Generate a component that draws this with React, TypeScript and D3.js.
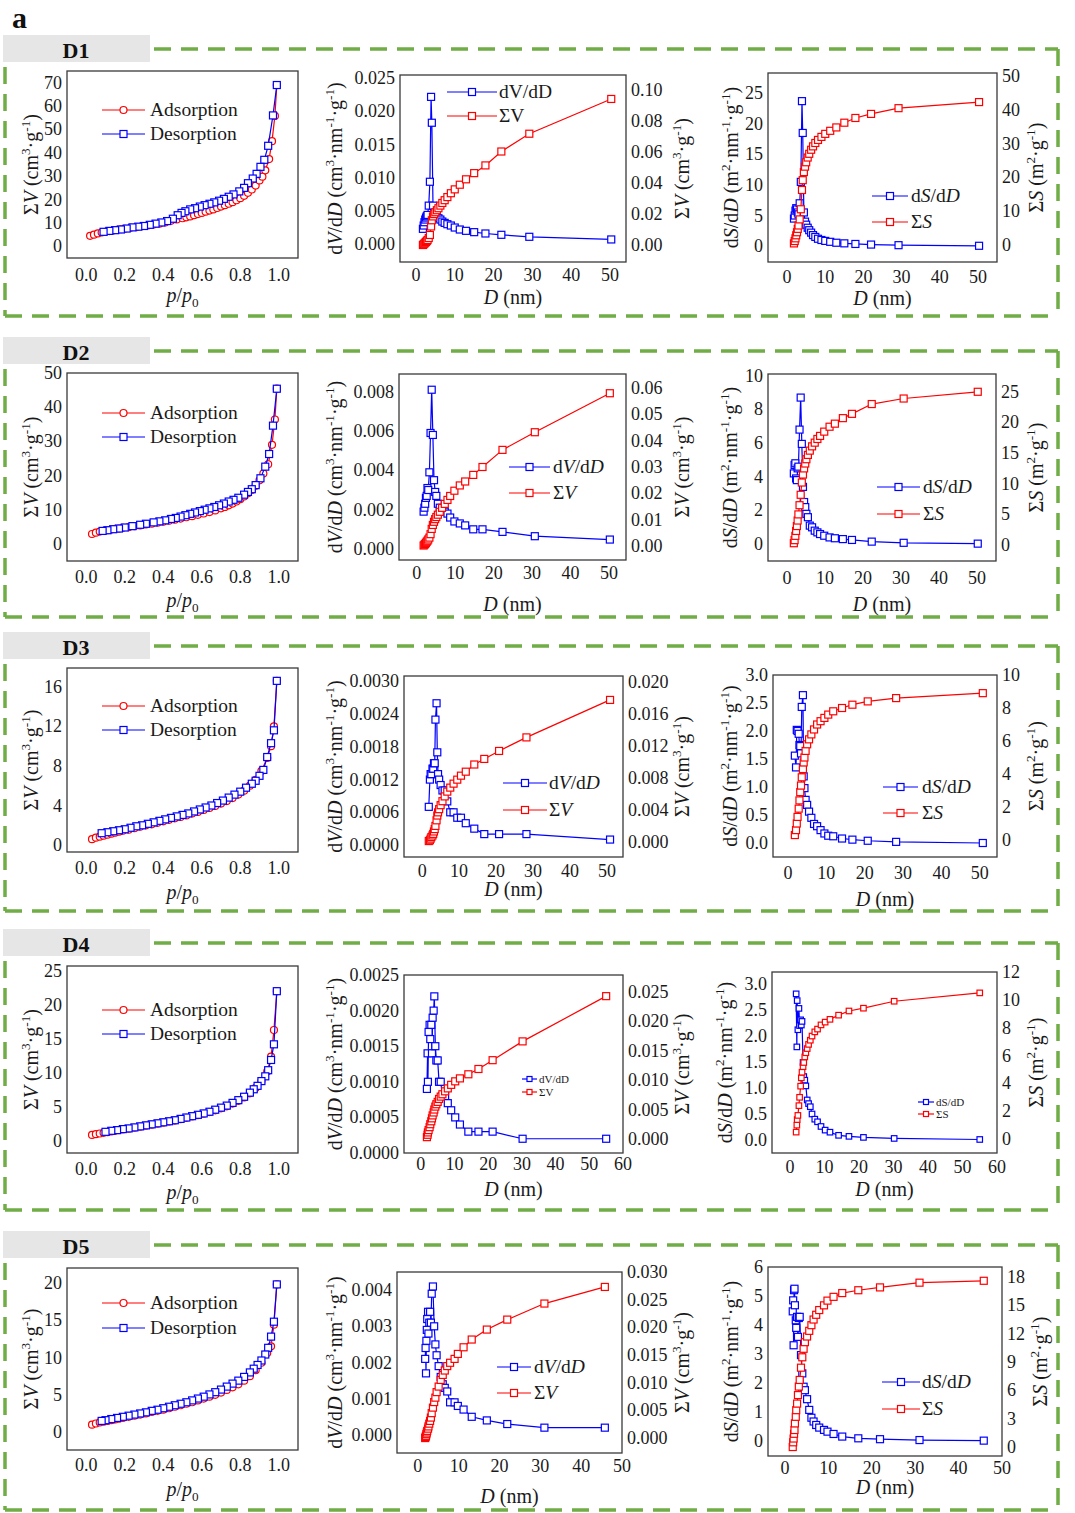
import React from 'react';
import * as d3 from 'd3';

const FONT = '"Liberation Serif","Times New Roman",Times,serif';
const RED = '#ff0000';
const BLUE = '#0000ff';
const GREEN = '#70ad47';
const INK = '#1a1a1a';

// ---------- Isotherm data (p/p0, cm3/g) ----------
const iso1AdsP = [0.02,0.04,0.06,0.08,0.10,0.12,0.14,0.16,0.18,0.20,0.23,0.26,0.29,0.32,0.35,0.38,0.41,0.44,0.47,0.50,0.52,0.54,0.56,0.58,0.60,0.62,0.64,0.66,0.68,0.70,0.72,0.74,0.76,0.78,0.80,0.82,0.84,0.86,0.88,0.90,0.915,0.93,0.95,0.965,0.98,0.99];
const iso1AdsV = [4.5,5.0,5.5,5.9,6.2,6.5,6.8,7.0,7.3,7.5,7.9,8.2,8.6,8.9,9.3,9.7,10.2,10.9,11.5,12.0,12.4,12.8,13.3,13.8,14.3,14.8,15.3,15.8,16.4,17.0,17.6,18.2,18.9,19.7,20.6,21.6,22.9,24.3,26.0,28.2,29.8,32.5,37.3,45.0,55.8,69.0];
const iso1DesP = [0.99,0.97,0.945,0.925,0.905,0.885,0.865,0.84,0.82,0.795,0.765,0.74,0.715,0.69,0.665,0.64,0.615,0.59,0.565,0.54,0.515,0.495,0.475,0.45,0.42,0.39,0.36,0.33,0.30,0.27,0.24,0.21,0.18,0.15,0.12,0.09];
const iso1DesV = [69,56,43,37,34,31,29,27,25,23.5,22.2,21.2,20.3,19.5,18.8,18.2,17.6,17.0,16.3,15.8,15.0,14.3,13.3,11.8,10.8,10.2,9.7,9.2,8.7,8.4,8.1,7.6,7.2,6.9,6.6,6.2];

const iso2AdsP = [0.03,0.05,0.07,0.09,0.11,0.13,0.15,0.17,0.19,0.22,0.25,0.28,0.31,0.34,0.37,0.40,0.43,0.46,0.49,0.52,0.55,0.58,0.61,0.64,0.67,0.70,0.72,0.74,0.76,0.78,0.80,0.82,0.84,0.86,0.88,0.90,0.92,0.945,0.965,0.98,0.99];
const iso2AdsV = [2.9,3.3,3.6,3.8,4.0,4.2,4.4,4.5,4.7,4.9,5.2,5.4,5.7,5.9,6.2,6.5,6.8,7.1,7.4,7.8,8.1,8.5,8.9,9.3,9.8,10.4,10.8,11.3,11.8,12.4,13.1,13.9,14.8,15.8,17.0,18.6,20.6,23.3,29.0,36.4,45.4];
const iso2DesP = [0.99,0.97,0.95,0.93,0.905,0.88,0.86,0.84,0.82,0.79,0.765,0.74,0.715,0.69,0.665,0.64,0.615,0.59,0.565,0.54,0.515,0.49,0.465,0.44,0.41,0.38,0.35,0.31,0.28,0.24,0.20,0.17,0.14,0.11,0.085];
const iso2DesV = [45.4,34.6,26.3,22.6,19.2,17.2,16.0,15.2,14.4,13.5,12.9,12.4,11.8,11.3,10.8,10.4,10.0,9.6,9.2,8.8,8.4,8.0,7.6,7.3,6.9,6.6,6.3,5.9,5.6,5.2,4.8,4.5,4.3,4.0,3.8];

const iso3AdsP = [0.03,0.05,0.07,0.09,0.11,0.13,0.15,0.17,0.19,0.22,0.25,0.28,0.31,0.34,0.37,0.40,0.43,0.46,0.49,0.52,0.55,0.58,0.61,0.64,0.67,0.70,0.73,0.76,0.79,0.82,0.85,0.88,0.91,0.94,0.96,0.975,0.99];
const iso3AdsV = [0.6,0.75,0.85,0.95,1.05,1.15,1.25,1.35,1.45,1.55,1.7,1.85,2.0,2.1,2.25,2.4,2.55,2.7,2.85,3.0,3.2,3.35,3.55,3.75,3.95,4.2,4.45,4.75,5.1,5.5,6.0,6.6,7.5,8.8,10.0,12.0,16.6];
const iso3DesP = [0.99,0.975,0.96,0.94,0.92,0.90,0.88,0.86,0.83,0.80,0.77,0.74,0.71,0.68,0.65,0.62,0.59,0.56,0.53,0.50,0.47,0.44,0.41,0.38,0.35,0.32,0.29,0.26,0.23,0.20,0.17,0.14,0.11,0.08];
const iso3DesV = [16.6,11.6,10.3,8.9,7.6,7.0,6.5,6.2,5.8,5.4,5.1,4.8,4.5,4.25,4.0,3.8,3.6,3.4,3.2,3.05,2.9,2.75,2.6,2.45,2.3,2.15,2.0,1.9,1.75,1.6,1.5,1.4,1.3,1.2];

const iso4AdsP = [0.03,0.05,0.07,0.09,0.11,0.13,0.15,0.17,0.19,0.22,0.25,0.28,0.31,0.34,0.37,0.40,0.43,0.46,0.49,0.52,0.55,0.58,0.61,0.64,0.67,0.70,0.73,0.76,0.79,0.82,0.85,0.88,0.91,0.94,0.96,0.975,0.99];
const iso4AdsV = [0.9,1.0,1.1,1.2,1.3,1.4,1.5,1.6,1.7,1.8,1.95,2.1,2.25,2.4,2.55,2.7,2.85,3.0,3.2,3.4,3.6,3.8,4.0,4.25,4.5,4.8,5.1,5.5,5.9,6.4,7.0,7.8,8.8,10.2,12.4,16.3,22.0];
const iso4DesP = [0.99,0.975,0.96,0.945,0.93,0.91,0.89,0.87,0.85,0.82,0.79,0.76,0.73,0.70,0.67,0.64,0.61,0.58,0.55,0.52,0.49,0.46,0.43,0.40,0.37,0.34,0.31,0.28,0.25,0.22,0.19,0.16,0.13,0.10];
const iso4DesV = [22.0,14.2,11.9,10.4,9.5,8.8,8.1,7.6,7.1,6.5,6.0,5.6,5.2,4.9,4.6,4.3,4.05,3.85,3.65,3.45,3.25,3.05,2.9,2.75,2.6,2.45,2.3,2.15,2.0,1.85,1.75,1.6,1.5,1.35];

const iso5AdsP = [0.03,0.05,0.07,0.09,0.11,0.13,0.15,0.17,0.19,0.22,0.25,0.28,0.31,0.34,0.37,0.40,0.43,0.46,0.49,0.52,0.55,0.58,0.61,0.64,0.67,0.70,0.73,0.76,0.79,0.82,0.85,0.88,0.91,0.94,0.96,0.975,0.99];
const iso5AdsV = [1.0,1.15,1.3,1.4,1.5,1.6,1.7,1.8,1.9,2.05,2.2,2.35,2.5,2.7,2.85,3.0,3.2,3.4,3.6,3.8,4.0,4.25,4.5,4.75,5.0,5.3,5.65,6.0,6.4,6.9,7.5,8.3,9.3,10.6,11.5,14.4,19.8];
const iso5DesP = [0.99,0.975,0.96,0.945,0.93,0.91,0.89,0.87,0.85,0.82,0.79,0.76,0.73,0.70,0.67,0.64,0.61,0.58,0.55,0.52,0.49,0.46,0.43,0.40,0.37,0.34,0.31,0.28,0.25,0.22,0.19,0.16,0.13,0.10,0.08];
const iso5DesV = [19.8,14.8,12.8,11.3,10.4,9.6,9.0,8.5,8.0,7.4,6.9,6.5,6.1,5.7,5.35,5.05,4.75,4.5,4.25,4.0,3.8,3.6,3.4,3.2,3.0,2.85,2.65,2.5,2.35,2.2,2.05,1.9,1.75,1.6,1.5];

// ---------- Pore size distribution data (D in nm) ----------
const psd1D = [1.8,2.0,2.2,2.4,2.6,2.8,3.0,3.3,3.6,3.9,4.1,4.4,4.7,5.0,5.4,5.8,6.3,6.8,7.4,8.1,9.0,10.0,11.3,12.9,15.0,17.9,22.0,29.2,50.3];
const psd1dV = [0.0023,0.0028,0.0033,0.0037,0.0040,0.0042,0.0044,0.0058,0.0094,0.0222,0.0183,0.0058,0.0047,0.0042,0.0040,0.0039,0.0037,0.0034,0.0032,0.0030,0.0028,0.0025,0.0022,0.0020,0.0018,0.0016,0.0014,0.0011,0.0007];
const psd1V = [0.0000,0.0005,0.0010,0.0015,0.0020,0.0026,0.0032,0.0045,0.0065,0.0120,0.0160,0.0185,0.0200,0.0212,0.0225,0.0238,0.0255,0.0272,0.0290,0.0310,0.0335,0.0360,0.0390,0.0425,0.0465,0.0515,0.0605,0.0720,0.0945];
const psd1dS = [4.5,5.0,5.8,6.2,6.0,5.5,5.2,7.0,10.5,23.7,18.5,5.5,4.0,3.5,3.0,2.6,2.2,1.8,1.5,1.2,1.0,0.85,0.7,0.55,0.45,0.35,0.25,0.15,0.05];
const psd1S = [0.5,1.2,2.0,2.9,3.8,4.8,5.8,7.6,10.6,16.3,19.2,21.6,23.2,24.5,25.9,27.0,28.2,29.2,30.2,31.1,32.0,32.9,33.8,34.8,36.2,37.6,38.8,40.5,42.3];

const psd2D = [1.8,2.0,2.2,2.4,2.6,2.8,3.0,3.3,3.6,3.9,4.2,4.5,4.8,5.1,5.5,6.0,6.6,7.3,8.0,8.7,9.8,11.2,12.6,14.7,17.1,22.3,30.7,50.2];
const psd2dV = [0.0019,0.0021,0.0023,0.0026,0.0027,0.0031,0.0030,0.0039,0.0059,0.0081,0.0058,0.0035,0.0029,0.0027,0.0023,0.0021,0.0019,0.0019,0.0018,0.0016,0.0014,0.0013,0.0012,0.0010,0.0010,0.00087,0.00065,0.00048];
const psd2V = [0.0002,0.0005,0.0008,0.0012,0.0016,0.0020,0.0025,0.0032,0.0045,0.0065,0.0080,0.0092,0.0102,0.0110,0.0119,0.0130,0.0145,0.0160,0.0175,0.0190,0.0210,0.0230,0.0245,0.0270,0.0300,0.0365,0.0432,0.0580];
const psd2dS = [4.2,4.7,4.8,3.9,3.8,4.5,4.6,6.8,8.7,5.95,3.4,2.5,2.2,1.8,1.6,1.1,1.0,0.8,0.7,0.6,0.5,0.4,0.35,0.3,0.25,0.15,0.08,0.03];
const psd2S = [0.3,0.8,1.5,2.3,3.1,4.0,5.0,6.5,8.2,10.2,11.5,12.5,13.3,14.0,14.7,15.4,16.1,16.7,17.3,17.8,18.5,19.3,19.8,20.7,21.4,23.0,23.9,25.0];

const psd3D = [1.8,2.1,2.3,2.5,2.8,3.0,3.2,3.4,3.6,3.9,4.1,4.3,4.6,5.0,5.5,6.1,6.8,7.6,8.5,9.5,10.5,11.8,14.1,16.8,20.8,28.2,50.8];
const psd3dV = [0.0007,0.0012,0.0013,0.0013,0.0014,0.0014,0.0015,0.0015,0.0023,0.0026,0.0017,0.0013,0.0012,0.0011,0.0010,0.0010,0.0008,0.0006,0.0006,0.0005,0.0005,0.0004,0.0003,0.0002,0.0002,0.0002,0.0001];
const psd3V = [0.0001,0.0002,0.0004,0.0006,0.0008,0.0010,0.0013,0.0016,0.0020,0.0027,0.0033,0.0037,0.0041,0.0046,0.0051,0.0057,0.0063,0.0068,0.0073,0.0078,0.0083,0.0088,0.0097,0.0104,0.0114,0.0131,0.0178];
const psd3dS = [1.56,1.35,2.02,2.0,1.95,1.75,1.73,1.6,2.43,2.64,1.19,0.98,0.77,0.68,0.56,0.45,0.34,0.30,0.23,0.17,0.13,0.12,0.08,0.06,0.04,0.02,0.0];
const psd3S = [0.3,0.6,1.0,1.4,1.9,2.4,2.9,3.3,3.8,4.3,4.7,5.0,5.4,5.8,6.1,6.4,6.7,7.0,7.2,7.4,7.6,7.8,8.0,8.2,8.4,8.6,8.9];

const psd4D = [1.8,2.0,2.1,2.3,2.6,2.8,3.1,3.3,3.5,3.8,4.0,4.3,4.6,5.0,5.4,5.9,6.4,7.2,8.0,9.0,10.2,11.6,14.1,17.1,21.3,30.2,55.0];
const psd4dV = [0.0009,0.0014,0.0010,0.0017,0.0018,0.0016,0.0018,0.0014,0.0019,0.0020,0.0022,0.0015,0.0013,0.0013,0.0010,0.0010,0.0008,0.0008,0.0007,0.0006,0.0005,0.0004,0.0003,0.0003,0.0003,0.0002,0.0002];
const psd4V = [0.0003,0.0007,0.0011,0.0015,0.0020,0.0025,0.0030,0.0035,0.0040,0.0045,0.0050,0.0055,0.0059,0.0063,0.0068,0.0072,0.0076,0.0081,0.0086,0.0092,0.0098,0.0103,0.0110,0.0119,0.0134,0.0166,0.0243];
const psd4dS = [2.81,1.79,2.68,2.12,2.53,2.20,2.31,2.21,2.28,1.49,1.22,1.15,1.04,0.77,0.70,0.64,0.50,0.40,0.35,0.26,0.19,0.15,0.09,0.07,0.05,0.03,0.01];
const psd4S = [0.5,1.0,1.4,1.7,2.4,3.0,3.8,4.4,4.8,5.2,5.5,5.9,6.2,6.5,6.8,7.1,7.4,7.7,7.9,8.2,8.4,8.6,8.9,9.2,9.4,9.9,10.5];

const psd5D = [1.8,1.9,2.0,2.1,2.2,2.3,2.5,2.6,2.8,3.0,3.2,3.4,3.7,4.0,4.3,4.6,5.1,5.6,6.1,6.6,7.2,7.9,9.0,9.8,11.2,13.2,16.9,21.9,31.0,45.8];
const psd5dV = [0.0021,0.0024,0.0017,0.0026,0.0029,0.0032,0.0034,0.0028,0.0031,0.0034,0.0031,0.0039,0.0041,0.0030,0.0025,0.0022,0.0019,0.0016,0.0014,0.0013,0.0012,0.0009,0.0009,0.0008,0.0007,0.0005,0.0004,0.0003,0.0002,0.0002];
const psd5V = [0.0000,0.0002,0.0004,0.0007,0.0010,0.0013,0.0017,0.0021,0.0026,0.0031,0.0037,0.0045,0.0055,0.0065,0.0073,0.0083,0.0093,0.0105,0.0114,0.0122,0.0130,0.0136,0.0143,0.0152,0.0164,0.0178,0.0196,0.0214,0.0243,0.0273];
const psd5dS = [4.47,4.85,3.30,5.20,5.25,4.68,4.16,3.90,4.28,3.59,4.24,4.28,2.96,2.33,1.87,1.75,1.44,1.07,0.80,0.67,0.55,0.46,0.38,0.32,0.24,0.15,0.09,0.06,0.03,0.01];
const psd5S = [0.0,0.5,0.9,1.4,1.8,2.5,3.2,3.9,4.6,5.5,6.4,7.1,8.4,9.5,10.4,11.1,11.7,12.3,12.9,13.5,14.0,14.5,15.0,15.5,15.9,16.3,16.6,16.9,17.4,17.6];

// ---------- tick values ----------
const isoXTicks = [0, 0.2, 0.4, 0.6, 0.8, 1.0];
const dTicks50 = [0, 10, 20, 30, 40, 50];
const dTicks60 = [0, 10, 20, 30, 40, 50, 60];
const sampleNames = ['D1', 'D2', 'D3', 'D4', 'D5'];

// ---------- rich text ----------
type Seg = { t: string; i: boolean; sup: boolean; sub: boolean };
function parseRich(s: string): Seg[] {
  const out: Seg[] = [];
  let cur = '';
  let st = { i: false, sup: false, sub: false };
  const push = () => { if (cur) out.push({ t: cur, ...st }); cur = ''; };
  for (const ch of s) {
    if (ch === '*') { push(); st = { ...st, i: !st.i }; }
    else if (ch === '^') { push(); st = { ...st, sup: !st.sup }; }
    else if (ch === '~') { push(); st = { ...st, sub: !st.sub }; }
    else cur += ch;
  }
  push();
  return out;
}

function Rich({ s, x, y, size, anchor = 'start', rotate = false }: any) {
  const segs = parseRich(s);
  let shift = 0;
  const spans = segs.map((g, k) => {
    const target = g.sup ? -0.38 * size : g.sub ? 0.25 * size : 0;
    const dy = target - shift;
    shift = target;
    return (
      <tspan key={k} dy={dy} fontStyle={g.i ? 'italic' : 'normal'} fontSize={g.sup || g.sub ? size * 0.66 : size}>
        {g.t}
      </tspan>
    );
  });
  const transform = rotate ? `translate(${x},${y}) rotate(-90)` : `translate(${x},${y})`;
  return (
    <text transform={transform} textAnchor={anchor} fontSize={size} fontFamily={FONT} fill={INK}>
      {spans}
    </text>
  );
}

function Marker({ kind, x, y, size, color }: any) {
  if (kind === 'circle') {
    return <circle cx={x} cy={y} r={size / 2} fill="#fff" stroke={color} strokeWidth={1.2} />;
  }
  return <rect x={x - size / 2} y={y - size / 2} width={size} height={size} fill="#fff" stroke={color} strokeWidth={1.2} />;
}

const TICK = 18;
const TITLE = 20;

function Panel({ c }: any) {
  const x = d3.scaleLinear().domain(c.xDom).range([c.x0, c.x1]);
  const yL = d3.scaleLinear().domain(c.yLDom).range([c.y1, c.y0]);
  const yR = c.yRDom ? d3.scaleLinear().domain(c.yRDom).range([c.y1, c.y0]) : null;
  const ms = c.msize ?? 7;
  const midY = (c.y0 + c.y1) / 2;
  const lg = c.legend;
  const lsize = lg.size ?? 19.5;
  const lms = lg.msize ?? ms;
  return (
    <g>
      <rect x={c.x0} y={c.y0} width={c.x1 - c.x0} height={c.y1 - c.y0} fill="none" stroke="#3a3a3a" strokeWidth={1.3} />
      {c.xTicks.map((t: number) => (
        <text key={'x' + t} x={x(t)} y={c.y1 + c.xTickDy} textAnchor="middle" fontSize={TICK} fontFamily={FONT} fill={INK}>
          {c.xFmt(t)}
        </text>
      ))}
      {c.yLTicks.map((t: number) => (
        <text key={'l' + t} x={c.x0 - 5} y={yL(t) + 6} textAnchor="end" fontSize={TICK} fontFamily={FONT} fill={INK}>
          {c.yLFmt(t)}
        </text>
      ))}
      {yR && c.yRTicks.map((t: number) => (
        <text key={'r' + t} x={c.x1 + 5} y={yR(t) + 6} textAnchor="start" fontSize={TICK} fontFamily={FONT} fill={INK}>
          {c.yRFmt(t)}
        </text>
      ))}
      {c.series.map((s: any, si: number) => {
        const ys = s.axis === 'right' && yR ? yR : yL;
        const pts: [number, number][] = s.x.map((v: number, i: number) => [x(v), ys(s.y[i])]);
        const line = d3.line();
        return (
          <g key={'s' + si}>
            <path d={line(pts) || ''} fill="none" stroke={s.color} strokeWidth={1.2} />
            {pts.map((p, i) => (
              <Marker key={i} kind={s.marker} x={p[0]} y={p[1]} size={ms} color={s.color} />
            ))}
          </g>
        );
      })}
      {lg.items.map((it: any, i: number) => (
        <g key={'lg' + i}>
          <line x1={lg.lx0} x2={lg.lx1} y1={lg.ys[i]} y2={lg.ys[i]} stroke={it.color} strokeWidth={1.2} />
          <Marker kind={it.marker} x={(lg.lx0 + lg.lx1) / 2} y={lg.ys[i]} size={lms} color={it.color} />
          <Rich s={it.label} x={lg.tx} y={lg.ys[i] + lsize * 0.33} size={lsize} />
        </g>
      ))}
      <Rich s={c.titleL} x={c.titleLx} y={midY} size={TITLE} anchor="middle" rotate />
      {c.titleR && <Rich s={c.titleR} x={c.titleRx} y={midY} size={TITLE} anchor="middle" rotate />}
      <Rich s={c.titleX} x={(c.x0 + c.x1) / 2} y={c.titleXy} size={TITLE} anchor="middle" />
    </g>
  );
}

const f1 = d3.format('.1f');
const f2 = d3.format('.2f');
const f3 = d3.format('.3f');
const f4 = d3.format('.4f');
const fi = d3.format('d');

const ISO_Y = 'Σ*V* (cm^3^·g^-1^)';
const ISO_X = '*p*/*p*~0~';
const DV_Y = 'd*V*/d*D* (cm^3^·nm^-1^·g^-1^)';
const SV_Y = 'Σ*V* (cm^3^·g^-1^)';
const DS_Y = 'd*S*/d*D* (m^2^·nm^-1^·g^-1^)';
const SS_Y = 'Σ*S* (m^2^·g^-1^)';
const D_X = '*D* (nm)';

function isoPanel(o: any) {
  return {
    x0: 67, x1: 298, y0: o.y0, y1: o.y1,
    xDom: [-0.1, 1.1], xTicks: isoXTicks, xFmt: f1, xTickDy: o.xTickDy,
    yLDom: o.yDom, yLTicks: o.yTicks, yLFmt: fi,
    titleL: ISO_Y, titleLx: 38, titleX: ISO_X, titleXy: o.titleXy,
    legend: {
      lx0: 102, lx1: 145, tx: 150, ys: o.legendYs,
      items: [
        { label: 'Adsorption', color: RED, marker: 'circle' },
        { label: 'Desorption', color: BLUE, marker: 'square' },
      ],
    },
    series: [
      { x: o.adsP, y: o.adsV, color: RED, marker: 'circle', axis: 'left' },
      { x: o.desP, y: o.desV, color: BLUE, marker: 'square', axis: 'left' },
    ],
  };
}

function psdPanel(o: any) {
  return {
    ...o,
    series: [
      { x: o.D, y: o.dY, color: BLUE, marker: 'square', axis: 'left' },
      { x: o.D, y: o.sY, color: RED, marker: 'square', axis: 'right' },
    ],
    legend: {
      ...o.legend,
      items: [
        { label: o.legend.l1, color: BLUE, marker: 'square' },
        { label: o.legend.l2, color: RED, marker: 'square' },
      ],
    },
  };
}

const panels = [
  // ---------------- D1 ----------------
  isoPanel({ y0: 71, y1: 258, yDom: [-5, 75], yTicks: [0, 10, 20, 30, 40, 50, 60, 70], xTickDy: 23, titleXy: 302, legendYs: [110, 134], adsP: iso1AdsP, adsV: iso1AdsV, desP: iso1DesP, desV: iso1DesV }),
  psdPanel({
    x0: 400, x1: 626, y0: 75, y1: 262, xDom: [-4.1, 54.1], xTicks: dTicks50, xFmt: fi, xTickDy: 19,
    yLDom: [-0.0027, 0.0255], yLTicks: [0, 0.005, 0.01, 0.015, 0.02, 0.025], yLFmt: f3,
    yRDom: [-0.011, 0.11], yRTicks: [0, 0.02, 0.04, 0.06, 0.08, 0.1], yRFmt: f2,
    titleL: DV_Y, titleLx: 342, titleR: SV_Y, titleRx: 689, titleX: D_X, titleXy: 304,
    legend: { lx0: 447, lx1: 497, tx: 499, ys: [92, 116], l1: 'dV/dD', l2: 'ΣV' },
    D: psd1D, dY: psd1dV, sY: psd1V,
  }),
  psdPanel({
    x0: 768, x1: 997, y0: 73, y1: 262, xDom: [-5, 55], xTicks: dTicks50, xFmt: fi, xTickDy: 21,
    yLDom: [-2.6, 28.3], yLTicks: [0, 5, 10, 15, 20, 25], yLFmt: fi,
    yRDom: [-5, 50.9], yRTicks: [0, 10, 20, 30, 40, 50], yRFmt: fi,
    titleL: DS_Y, titleLx: 738, titleR: SS_Y, titleRx: 1043, titleX: D_X, titleXy: 305,
    legend: { lx0: 872, lx1: 908, tx: 911, ys: [196, 222], l1: 'd*S*/d*D*', l2: 'Σ*S*' },
    D: psd1D, dY: psd1dS, sY: psd1S,
  }),
  // ---------------- D2 ----------------
  isoPanel({ y0: 373, y1: 561, yDom: [-5, 50], yTicks: [0, 10, 20, 30, 40, 50], xTickDy: 22, titleXy: 607, legendYs: [413, 437], adsP: iso2AdsP, adsV: iso2AdsV, desP: iso2DesP, desV: iso2DesV }),
  psdPanel({
    x0: 399, x1: 626, y0: 374, y1: 560, xDom: [-4.6, 54.4], xTicks: dTicks50, xFmt: fi, xTickDy: 19,
    yLDom: [-0.00056, 0.0089], yLTicks: [0, 0.002, 0.004, 0.006, 0.008], yLFmt: f3,
    yRDom: [-0.0053, 0.0653], yRTicks: [0, 0.01, 0.02, 0.03, 0.04, 0.05, 0.06], yRFmt: f2,
    titleL: DV_Y, titleLx: 342, titleR: SV_Y, titleRx: 689, titleX: D_X, titleXy: 611,
    legend: { lx0: 509, lx1: 550, tx: 553, ys: [467, 493], l1: 'd*V*/d*D*', l2: 'Σ*V*' },
    D: psd2D, dY: psd2dV, sY: psd2V,
  }),
  psdPanel({
    x0: 768, x1: 996, y0: 374, y1: 561, xDom: [-5, 55], xTicks: dTicks50, xFmt: fi, xTickDy: 23,
    yLDom: [-1.0, 10.1], yLTicks: [0, 2, 4, 6, 8, 10], yLFmt: fi,
    yRDom: [-2.6, 27.9], yRTicks: [0, 5, 10, 15, 20, 25], yRFmt: fi,
    titleL: DS_Y, titleLx: 737, titleR: SS_Y, titleRx: 1043, titleX: D_X, titleXy: 611,
    legend: { lx0: 877, lx1: 920, tx: 923, ys: [487, 514], l1: 'd*S*/d*D*', l2: 'Σ*S*' },
    D: psd2D, dY: psd2dS, sY: psd2S,
  }),
  // ---------------- D3 ----------------
  isoPanel({ y0: 668, y1: 852, yDom: [-0.7, 17.9], yTicks: [0, 4, 8, 12, 16], xTickDy: 22, titleXy: 899, legendYs: [706, 730], adsP: iso3AdsP, adsV: iso3AdsV, desP: iso3DesP, desV: iso3DesV }),
  psdPanel({
    x0: 404, x1: 623, y0: 676, y1: 857, xDom: [-4.9, 54.3], xTicks: dTicks50, xFmt: fi, xTickDy: 20,
    yLDom: [-0.00022, 0.0031], yLTicks: [0, 0.0006, 0.0012, 0.0018, 0.0024, 0.003], yLFmt: f4,
    yRDom: [-0.0019, 0.0208], yRTicks: [0, 0.004, 0.008, 0.012, 0.016, 0.02], yRFmt: f3,
    titleL: DV_Y, titleLx: 342, titleR: SV_Y, titleRx: 689, titleX: D_X, titleXy: 896,
    legend: { lx0: 503, lx1: 547, tx: 549, ys: [783, 810], l1: 'd*V*/d*D*', l2: 'Σ*V*' },
    D: psd3D, dY: psd3dV, sY: psd3V,
  }),
  psdPanel({
    x0: 773, x1: 997, y0: 675, y1: 857, xDom: [-3.9, 54.5], xTicks: dTicks50, xFmt: fi, xTickDy: 22,
    yLDom: [-0.25, 3.0], yLTicks: [0, 0.5, 1, 1.5, 2, 2.5, 3], yLFmt: f1,
    yRDom: [-1.03, 10], yRTicks: [0, 2, 4, 6, 8, 10], yRFmt: fi,
    titleL: DS_Y, titleLx: 737, titleR: SS_Y, titleRx: 1043, titleX: D_X, titleXy: 906,
    legend: { lx0: 883, lx1: 918, tx: 922, ys: [787, 813], l1: 'd*S*/d*D*', l2: 'Σ*S*' },
    D: psd3D, dY: psd3dS, sY: psd3S,
  }),
  // ---------------- D4 ----------------
  isoPanel({ y0: 966, y1: 1153, yDom: [-1.76, 25.7], yTicks: [0, 5, 10, 15, 20, 25], xTickDy: 22, titleXy: 1199, legendYs: [1010, 1034], adsP: iso4AdsP, adsV: iso4AdsV, desP: iso4DesP, desV: iso4DesV }),
  psdPanel({
    x0: 404, x1: 623, y0: 975, y1: 1153, xDom: [-5, 60], xTicks: dTicks60, xFmt: fi, xTickDy: 17,
    yLDom: [0, 0.0025], yLTicks: [0, 0.0005, 0.001, 0.0015, 0.002, 0.0025], yLFmt: f4,
    yRDom: [-0.0024, 0.0279], yRTicks: [0, 0.005, 0.01, 0.015, 0.02, 0.025], yRFmt: f3,
    titleL: DV_Y, titleLx: 342, titleR: SV_Y, titleRx: 689, titleX: D_X, titleXy: 1196,
    legend: { lx0: 522, lx1: 537, tx: 539, ys: [1079, 1092], l1: 'dV/dD', l2: 'ΣV', size: 11, msize: 5 },
    D: psd4D, dY: psd4dV, sY: psd4V,
  }),
  psdPanel({
    x0: 772, x1: 997, y0: 972, y1: 1153, xDom: [-5.2, 60], xTicks: dTicks60, xFmt: fi, xTickDy: 20, msize: 5.5,
    yLDom: [-0.25, 3.23], yLTicks: [0, 0.5, 1, 1.5, 2, 2.5, 3], yLFmt: f1,
    yRDom: [-1.0, 12], yRTicks: [0, 2, 4, 6, 8, 10, 12], yRFmt: fi,
    titleL: DS_Y, titleLx: 732, titleR: SS_Y, titleRx: 1043, titleX: D_X, titleXy: 1196,
    legend: { lx0: 918, lx1: 934, tx: 936, ys: [1102, 1114], l1: 'dS/dD', l2: 'ΣS', size: 11, msize: 5 },
    D: psd4D, dY: psd4dS, sY: psd4S,
  }),
  // ---------------- D5 ----------------
  isoPanel({ y0: 1268, y1: 1450, yDom: [-2.4, 22], yTicks: [0, 5, 10, 15, 20], xTickDy: 21, titleXy: 1496, legendYs: [1303, 1328], adsP: iso5AdsP, adsV: iso5AdsV, desP: iso5DesP, desV: iso5DesV }),
  psdPanel({
    x0: 397, x1: 622, y0: 1272, y1: 1453, xDom: [-5.1, 50], xTicks: dTicks50, xFmt: fi, xTickDy: 19,
    yLDom: [-0.0005, 0.0045], yLTicks: [0, 0.001, 0.002, 0.003, 0.004], yLFmt: f3,
    yRDom: [-0.0027, 0.03], yRTicks: [0, 0.005, 0.01, 0.015, 0.02, 0.025, 0.03], yRFmt: f3,
    titleL: DV_Y, titleLx: 342, titleR: SV_Y, titleRx: 689, titleX: D_X, titleXy: 1503,
    legend: { lx0: 497, lx1: 531, tx: 534, ys: [1367, 1393], l1: 'd*V*/d*D*', l2: 'Σ*V*' },
    D: psd5D, dY: psd5dV, sY: psd5V,
  }),
  psdPanel({
    x0: 768, x1: 1002, y0: 1267, y1: 1456, xDom: [-3.9, 50], xTicks: dTicks50, xFmt: fi, xTickDy: 18,
    yLDom: [-0.52, 6], yLTicks: [0, 1, 2, 3, 4, 5, 6], yLFmt: fi,
    yRDom: [-0.95, 19.06], yRTicks: [0, 3, 6, 9, 12, 15, 18], yRFmt: fi,
    titleL: DS_Y, titleLx: 738, titleR: SS_Y, titleRx: 1047, titleX: D_X, titleXy: 1494,
    legend: { lx0: 882, lx1: 920, tx: 922, ys: [1382, 1409], l1: 'd*S*/d*D*', l2: 'Σ*S*' },
    D: psd5D, dY: psd5dS, sY: psd5S,
  }),
];

const rowBoxTop = [35, 337, 632, 929, 1231];
const rowBottom = [316, 617, 911, 1210, 1510];

function RowFrame({ i }: any) {
  const top = rowBoxTop[i];
  const lineY = top + 14;
  const bottom = rowBottom[i];
  const dash = '17 10';
  return (
    <g>
      <rect x={3} y={top} width={147} height={27} fill="#e6e6e6" />
      <text x={76} y={top + 23} textAnchor="middle" fontSize={22} fontWeight="bold" fontFamily={FONT} fill="#111">
        {sampleNames[i]}
      </text>
      <g stroke={GREEN} strokeWidth={3.5} fill="none" strokeDasharray={dash}>
        <line x1={154} x2={1058} y1={lineY} y2={lineY} />
        <line x1={1058} x2={1058} y1={lineY} y2={bottom} />
        <line x1={5} x2={1058} y1={bottom} y2={bottom} />
        <line x1={5} x2={5} y1={top + 32} y2={bottom} />
      </g>
    </g>
  );
}

export default function App() {
  return (
    <div style={{ position: 'absolute', left: 0, top: 0 }}>
      <svg width={1075} height={1513} viewBox="0 0 1075 1513" style={{ display: 'block', background: '#fff' }}>
        <rect x={0} y={0} width={1075} height={1513} fill="#fff" />
        <text x={12} y={28} fontSize={30} fontWeight="bold" fontFamily={FONT} fill="#111">a</text>
        {sampleNames.map((_, i) => <RowFrame key={i} i={i} />)}
        {panels.map((c, i) => <Panel key={i} c={c} />)}
      </svg>
    </div>
  );
}
